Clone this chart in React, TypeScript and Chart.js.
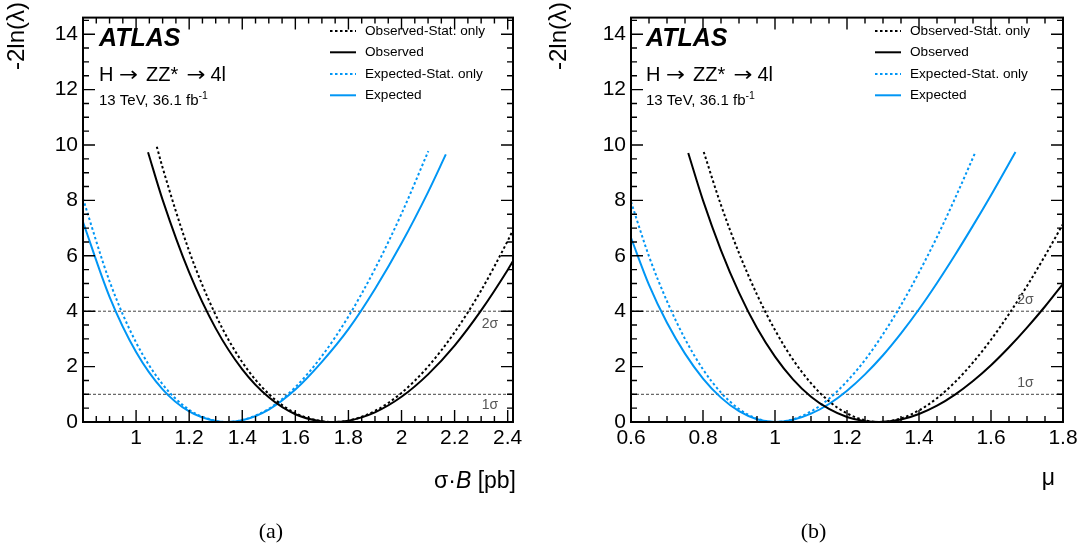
import React, { useEffect, useRef } from 'react';
import { Chart, registerables } from 'chart.js';

Chart.register(...registerables);

const FAM = '"Liberation Sans", Arial, Helvetica, sans-serif';
const ARROW_FAM = '"DejaVu Sans", sans-serif';
const SERIF = '"Liberation Serif", "Times New Roman", serif';
const BLACK = '#000000';
const BLUE = 'rgb(0,150,245)';

// ---------- Panel (a): sigma x B [pb] ----------
const aObsStatX = [1.078, 1.1, 1.2, 1.3, 1.4, 1.5, 1.6, 1.7, 1.742, 1.8, 1.9, 2.0, 2.1, 2.2, 2.3, 2.4, 2.42];
const aObsStatY = [9.94, 9.18, 6.17, 3.86, 2.16, 1.01, 0.32, 0.03, 0, 0.05, 0.40, 1.05, 2.00, 3.24, 4.75, 6.54, 6.93];
const aObsX = [1.045, 1.1, 1.2, 1.3, 1.4, 1.5, 1.6, 1.7, 1.742, 1.8, 1.9, 2.0, 2.1, 2.2, 2.3, 2.4, 2.42];
const aObsY = [9.74, 8.02, 5.40, 3.38, 1.90, 0.89, 0.28, 0.02, 0, 0.05, 0.35, 0.91, 1.72, 2.76, 4.03, 5.49, 5.81];
const aExpStatX = [0.8, 0.9, 1.0, 1.1, 1.2, 1.3, 1.342, 1.4, 1.5, 1.6, 1.7, 1.8, 1.9, 2.0, 2.101];
const aExpStatY = [8.06, 5.08, 2.87, 1.36, 0.44, 0.04, 0, 0.07, 0.48, 1.26, 2.38, 3.81, 5.53, 7.52, 9.78];
const aExpX = [0.8, 0.9, 1.0, 1.1, 1.2, 1.3, 1.342, 1.4, 1.5, 1.6, 1.7, 1.8, 1.9, 2.0, 2.1, 2.167];
const aExpY = [7.22, 4.52, 2.53, 1.18, 0.38, 0.03, 0, 0.06, 0.45, 1.17, 2.17, 3.35, 4.80, 6.45, 8.30, 9.66];

// ---------- Panel (b): mu ----------
const bObsStatX = [0.802, 0.85, 0.9, 0.95, 1.0, 1.05, 1.1, 1.15, 1.2, 1.25, 1.289, 1.35, 1.4, 1.45, 1.5, 1.55, 1.6, 1.65, 1.7, 1.75, 1.8];
const bObsStatY = [9.75, 7.83, 6.10, 4.60, 3.32, 2.25, 1.40, 0.75, 0.31, 0.06, 0, 0.13, 0.42, 0.86, 1.44, 2.15, 2.97, 3.90, 4.91, 6.00, 7.15];
const bObsX = [0.759, 0.8, 0.85, 0.9, 0.95, 1.0, 1.05, 1.1, 1.15, 1.2, 1.25, 1.289, 1.35, 1.4, 1.45, 1.5, 1.55, 1.6, 1.65, 1.7, 1.75, 1.8];
const bObsY = [9.71, 8.00, 6.20, 4.67, 3.39, 2.36, 1.54, 0.91, 0.47, 0.18, 0.03, 0, 0.09, 0.29, 0.59, 0.99, 1.48, 2.05, 2.70, 3.41, 4.17, 4.99];
const bExpStatX = [0.6, 0.65, 0.7, 0.75, 0.8, 0.85, 0.9, 0.95, 1.0, 1.05, 1.1, 1.15, 1.2, 1.25, 1.3, 1.35, 1.4, 1.45, 1.5, 1.557];
const bExpStatY = [7.95, 5.98, 4.36, 3.00, 1.90, 1.06, 0.47, 0.12, 0, 0.10, 0.38, 0.84, 1.47, 2.24, 3.17, 4.22, 5.40, 6.68, 8.07, 9.75];
const bExpX = [0.6, 0.65, 0.7, 0.75, 0.8, 0.85, 0.9, 0.95, 1.0, 1.05, 1.1, 1.15, 1.2, 1.25, 1.3, 1.35, 1.4, 1.45, 1.5, 1.55, 1.6, 1.668];
const bExpY = [6.65, 4.95, 3.58, 2.47, 1.57, 0.88, 0.39, 0.10, 0, 0.08, 0.30, 0.65, 1.13, 1.72, 2.41, 3.20, 4.07, 5.02, 6.03, 7.09, 8.19, 9.75];

// ---------- shared ----------
const SERIES_LABELS = ['Observed-Stat. only', 'Observed', 'Expected-Stat. only', 'Expected'];
const SIGMA_LEVELS = [1, 4];
const SIGMA_LABELS = ['1σ', '2σ'];
const Y_MIN = 0;
const Y_MAX = 14.6;
const Y_TITLE = '-2ln(λ)';
const ATLAS_TEXT = 'ATLAS';
const PROCESS_PARTS = ['H', '→', 'ZZ*', '→', '4l'];
const LUMI_TEXT = '13 TeV, 36.1 fb';
const LUMI_SUP = '-1';

const pts = (xs: number[], ys: number[]) => xs.map((x, i) => ({ x, y: ys[i] }));

type PanelCfg = {
  left: number;
  width: number;
  yW: number;
  padR: number;
  xMin: number;
  xMax: number;
  hideX: number[];
  series: [number[], number[]][];
  tx: number;
  legLine: [number, number];
  legText: number;
  sigOffsets: number[];
  sigX: number;
  xTitle: { parts: [string, boolean][]; right: number; base: number; size: number };
  caption: string;
};

const PANELS: PanelCfg[] = [
  {
    left: 0, width: 542, yW: 83, padR: 29, xMin: 0.8, xMax: 2.42, hideX: [0.8],
    series: [[aObsStatX, aObsStatY], [aObsX, aObsY], [aExpStatX, aExpStatY], [aExpX, aExpY]],
    tx: 99, legLine: [330, 356], legText: 365,
    sigOffsets: [11, 13], sigX: 490,
    xTitle: { parts: [['σ·', false], ['B', true], [' [pb]', false]], right: 516, base: 488, size: 23 },
    caption: '(a)',
  },
  {
    left: 542, width: 543, yW: 89, padR: 22, xMin: 0.6, xMax: 1.8, hideX: [],
    series: [[bObsStatX, bObsStatY], [bObsX, bObsY], [bExpStatX, bExpStatY], [bExpX, bExpY]],
    tx: 104, legLine: [333, 359], legText: 368,
    sigOffsets: [-11, -11], sigX: 483.5,
    xTitle: { parts: [['μ', false]], right: 513, base: 485, size: 23 },
    caption: '(b)',
  },
];

const STYLES = [
  { color: BLACK, dash: [2.5, 2.5] },
  { color: BLACK, dash: [] as number[] },
  { color: BLUE, dash: [2.5, 2.5] },
  { color: BLUE, dash: [] as number[] },
];

const framePlugin = {
  id: 'frame',
  afterDatasetsDraw(chart: any) {
    const { ctx, chartArea: a, scales } = chart;
    const x = scales.x, y = scales.y;
    ctx.save();
    ctx.strokeStyle = '#000';
    ctx.lineWidth = 1.4;
    ctx.setLineDash([]);
    ctx.beginPath();
    const xs = 0.05;
    for (let i = Math.ceil(x.min / xs - 1e-6); i * xs <= x.max + 1e-6; i++) {
      const px = x.getPixelForValue(i * xs);
      const L = i % 4 === 0 ? 12 : 6;
      ctx.moveTo(px, a.bottom); ctx.lineTo(px, a.bottom - L);
      ctx.moveTo(px, a.top); ctx.lineTo(px, a.top + L);
    }
    const ys = 0.5;
    for (let i = Math.ceil(y.min / ys - 1e-6); i * ys <= y.max + 1e-6; i++) {
      const py = y.getPixelForValue(i * ys);
      const L = i % 4 === 0 ? 12 : 6;
      ctx.moveTo(a.left, py); ctx.lineTo(a.left + L, py);
      ctx.moveTo(a.right, py); ctx.lineTo(a.right - L, py);
    }
    ctx.stroke();
    ctx.lineWidth = 2;
    ctx.strokeRect(a.left, a.top, a.right - a.left, a.bottom - a.top);
    ctx.restore();
  },
};

const annotPlugin = {
  id: 'annot',
  afterDraw(chart: any, _args: any, o: any) {
    const { ctx, scales } = chart;
    const cfg: PanelCfg = o.cfg;
    ctx.save();
    ctx.fillStyle = '#000';
    ctx.textAlign = 'left';
    ctx.textBaseline = 'alphabetic';
    // ATLAS label
    ctx.font = `italic bold 25px ${FAM}`;
    ctx.fillText(ATLAS_TEXT, cfg.tx, 36.7 + 0.358 * 25);

    // process line: H -> ZZ* -> 4l
    const pb = 74 + 0.358 * 20;
    const offs = [0, 20, 47, 87.5, 111.5];
    PROCESS_PARTS.forEach((t, i) => {
      if (t === '→') {
        ctx.save();
        ctx.font = `20px ${ARROW_FAM}`;
        const w = ctx.measureText(t).width;
        ctx.translate(cfg.tx + offs[i], pb);
        ctx.scale(19 / w, 1);
        ctx.fillText(t, 0, 0);
        ctx.restore();
      } else {
        ctx.font = `20px ${FAM}`;
        ctx.fillText(t, cfg.tx + offs[i], pb);
      }
    });

    ctx.font = `15px ${FAM}`;
    const lb = 100 + 0.358 * 15;
    ctx.fillText(LUMI_TEXT, cfg.tx, lb);
    const lw = ctx.measureText(LUMI_TEXT).width;
    ctx.font = `10.5px ${FAM}`;
    ctx.fillText(LUMI_SUP, cfg.tx + lw, lb - 6);

    // Legend
    const rows = [31, 52.3, 74, 95.3];
    chart.data.datasets.slice(0, 4).forEach((ds: any, i: number) => {
      const yy = rows[i];
      ctx.strokeStyle = ds.borderColor;
      ctx.lineWidth = 2;
      ctx.setLineDash(ds.borderDash || []);
      ctx.beginPath();
      ctx.moveTo(cfg.legLine[0], yy);
      ctx.lineTo(cfg.legLine[1], yy);
      ctx.stroke();
      ctx.setLineDash([]);
      ctx.fillStyle = '#000';
      ctx.font = `13.6px ${FAM}`;
      ctx.textBaseline = 'middle';
      ctx.fillText(ds.label, cfg.legText, yy);
    });

    // sigma labels
    ctx.fillStyle = '#555';
    ctx.font = `14px ${FAM}`;
    ctx.textAlign = 'center';
    ctx.textBaseline = 'middle';
    SIGMA_LEVELS.forEach((lv, i) => {
      const py = scales.y.getPixelForValue(lv) + cfg.sigOffsets[i];
      ctx.fillText(SIGMA_LABELS[i], cfg.sigX, py);
    });

    // x title (right aligned)
    ctx.fillStyle = '#000';
    ctx.textBaseline = 'alphabetic';
    ctx.textAlign = 'left';
    const sz = cfg.xTitle.size;
    let total = 0;
    const widths = cfg.xTitle.parts.map(([t, it]) => {
      ctx.font = `${it ? 'italic ' : ''}${sz}px ${FAM}`;
      const w = ctx.measureText(t).width;
      total += w;
      return w;
    });
    let cx = cfg.xTitle.right - total;
    cfg.xTitle.parts.forEach(([t, it], i) => {
      ctx.font = `${it ? 'italic ' : ''}${sz}px ${FAM}`;
      ctx.fillText(t, cx, cfg.xTitle.base);
      cx += widths[i];
    });

    // y title (rotated, aligned to top)
    ctx.save();
    ctx.translate(24, 2);
    ctx.rotate(-Math.PI / 2);
    ctx.font = `24px ${FAM}`;
    ctx.textAlign = 'right';
    ctx.textBaseline = 'alphabetic';
    ctx.fillText(Y_TITLE, 0, 0);
    ctx.restore();

    ctx.restore();
  },
};

function fmt(v: number) {
  return String(Math.round(v * 100) / 100);
}

function Panel({ cfg }: { cfg: PanelCfg }) {
  const ref = useRef<HTMLCanvasElement>(null);
  useEffect(() => {
    const datasets: any[] = cfg.series.map(([xs, ys], i) => ({
      label: SERIES_LABELS[i],
      data: pts(xs, ys),
      borderColor: STYLES[i].color,
      borderDash: STYLES[i].dash,
      borderWidth: 2,
      fill: false,
      order: 1,
    }));
    SIGMA_LEVELS.forEach((lv, i) => {
      datasets.push({
        label: SIGMA_LABELS[i],
        data: [{ x: cfg.xMin, y: lv }, { x: cfg.xMax, y: lv }],
        borderColor: '#444',
        borderDash: [3, 2],
        borderWidth: 1,
        fill: false,
        order: 5,
      });
    });
    const chart = new Chart(ref.current as HTMLCanvasElement, {
      type: 'line',
      data: { datasets },
      options: {
        responsive: false,
        animation: false,
        devicePixelRatio: 1,
        layout: { padding: { top: 7, left: 0, right: cfg.padR, bottom: 0 } },
        elements: {
          point: { radius: 0, hoverRadius: 0 },
          line: { cubicInterpolationMode: 'monotone', tension: 0 },
        },
        plugins: {
          legend: { display: false },
          tooltip: { enabled: false },
          title: { display: false },
          annot: { cfg },
        } as any,
        scales: {
          x: {
            type: 'linear',
            min: cfg.xMin,
            max: cfg.xMax,
            afterFit: (s: any) => { s.height = 123; },
            grid: { display: false, drawTicks: false },
            border: { display: false },
            ticks: {
              stepSize: 0.2,
              includeBounds: false,
              autoSkip: false,
              maxRotation: 0,
              minRotation: 0,
              padding: 4,
              color: '#000',
              font: { family: FAM, size: 21 },
              callback: (v: any) => (cfg.hideX.some((h) => Math.abs(h - v) < 1e-6) ? '' : fmt(Number(v))),
            },
          },
          y: {
            type: 'linear',
            min: Y_MIN,
            max: Y_MAX,
            afterFit: (s: any) => { s.width = cfg.yW; },
            grid: { display: false, drawTicks: false },
            border: { display: false },
            ticks: {
              stepSize: 2,
              includeBounds: false,
              autoSkip: false,
              padding: 5,
              color: '#000',
              font: { family: FAM, size: 21 },
              callback: (v: any) => fmt(Number(v)),
            },
          },
        } as any,
      },
      plugins: [framePlugin, annotPlugin],
    } as any);
    return () => chart.destroy();
  }, [cfg]);
  return (
    <>
      <canvas
        ref={ref}
        width={cfg.width}
        height={545}
        style={{ position: 'absolute', left: cfg.left, top: 0, width: cfg.width, height: 545 }}
      />
      <div
        style={{
          position: 'absolute',
          left: cfg.left,
          top: 519,
          width: cfg.width,
          textAlign: 'center',
          fontFamily: SERIF,
          fontSize: 22,
          lineHeight: '24px',
          color: '#000',
        }}
      >
        {cfg.caption}
      </div>
    </>
  );
}

export default function App() {
  return (
    <div style={{ position: 'absolute', left: 0, top: 0, width: 1085, height: 545, background: '#fff', overflow: 'hidden' }}>
      {PANELS.map((p) => (
        <Panel key={p.caption} cfg={p} />
      ))}
    </div>
  );
}
